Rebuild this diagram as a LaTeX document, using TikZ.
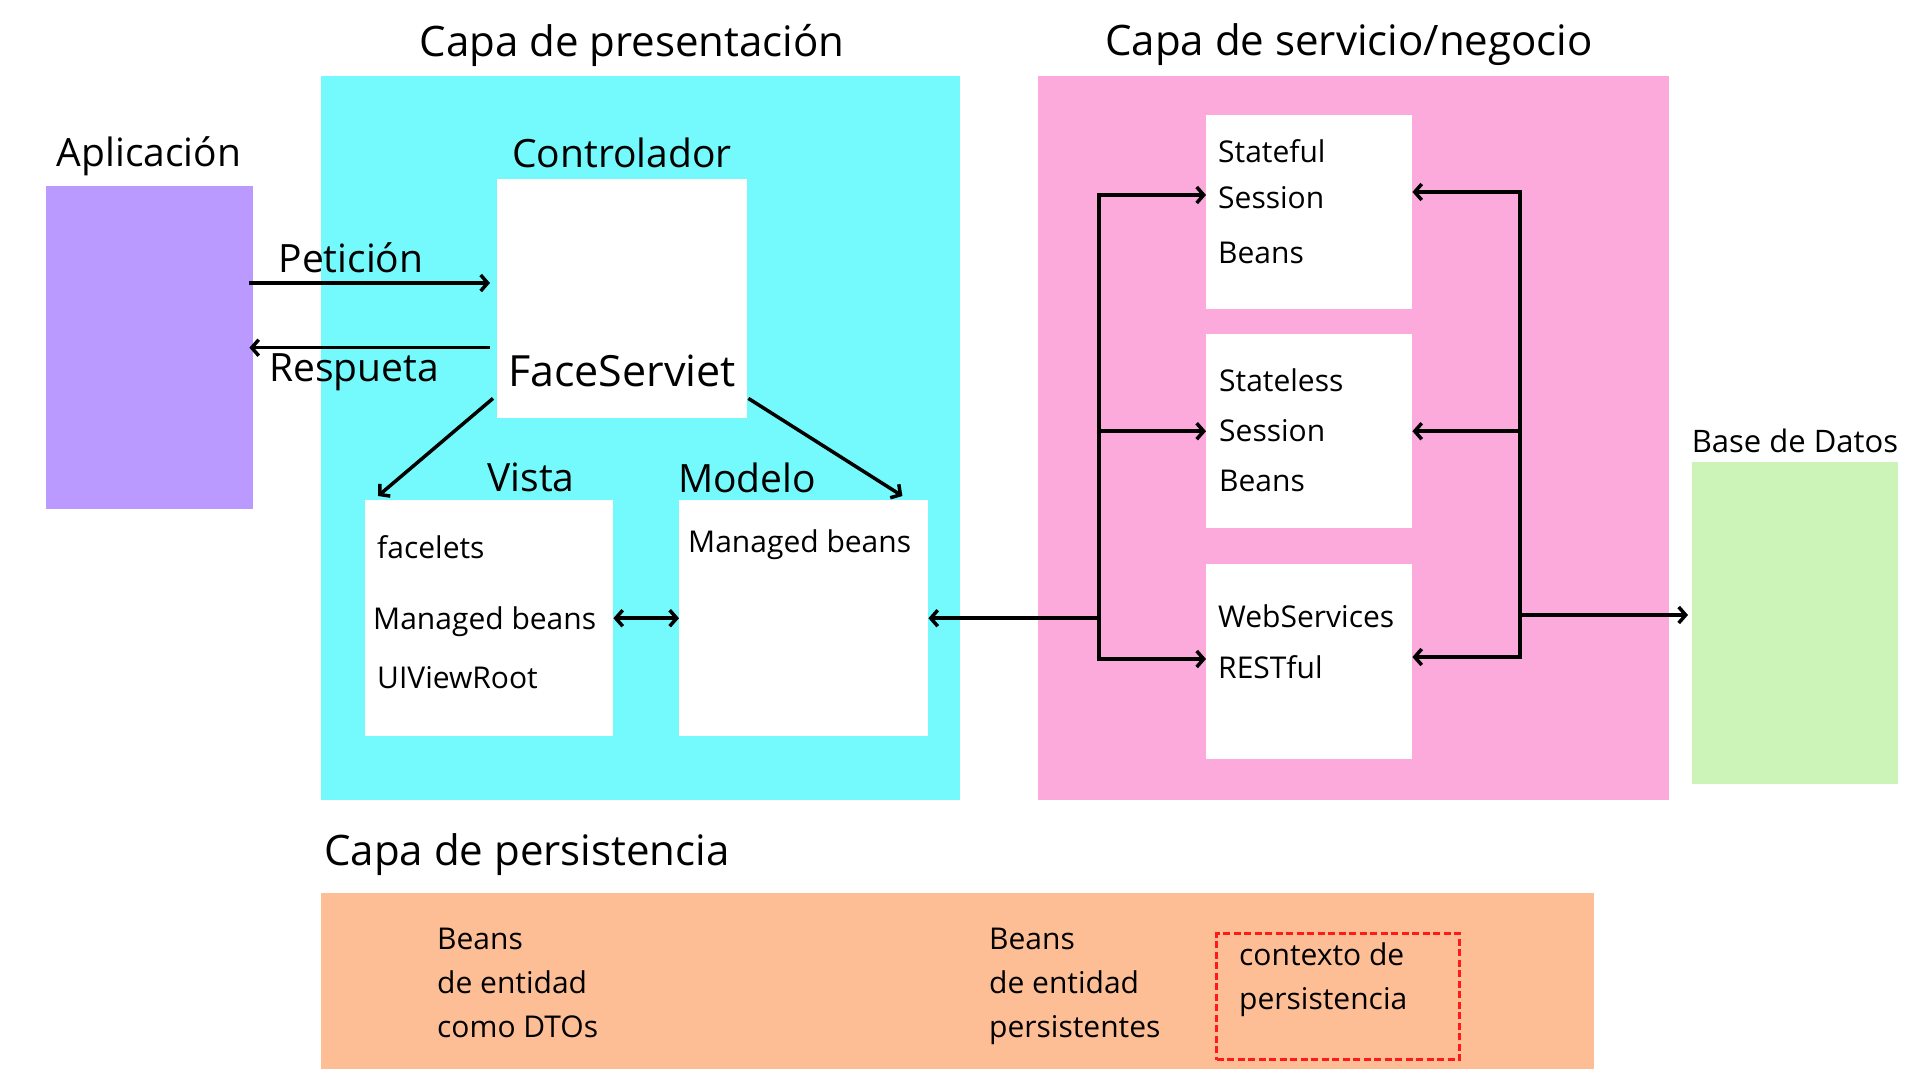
\documentclass[tikz,border=0pt]{standalone}
\usepackage{fontspec}
\setmainfont{Open Sans}
\usetikzlibrary{arrows.meta}

\definecolor{appPurple}{HTML}{BA9AFE}
\definecolor{presCyan}{HTML}{74FAFD}
\definecolor{servPink}{HTML}{FCA9DC}
\definecolor{dbGreen}{HTML}{CCF4B9}
\definecolor{persOrange}{HTML}{FDBE96}
\definecolor{ctxRed}{HTML}{FF1A1A}

\begin{document}
\begin{tikzpicture}[x=1pt, y=-1pt, % pixel units, y downwards
    >={Straight Barb[length=7pt,width=16pt]},
    layer/.style={fill=#1, draw=none, anchor=north west, inner sep=0pt},
    box/.style={fill=white, draw=none, anchor=north west, inner sep=0pt},
    title/.style={font=\fontsize{42}{50}\selectfont, inner sep=0pt},
    label/.style={font=\fontsize{39}{46}\selectfont, inner sep=0pt},
    txt/.style={font=\fontsize{30}{#1}\selectfont, align=left, anchor=base west, inner sep=0pt},
    arr/.style={line width=3.5pt, ->}]

    % Page
    \fill[white] (0,0) rectangle (1920,1080);
    \useasboundingbox (0,0) rectangle (1920,1080);

    % Layers
    \node[layer=appPurple, minimum width=207, minimum height=323] (app) at (46,186) {};
    \node[layer=presCyan, minimum width=639, minimum height=724] (pres) at (321,76) {};
    \node[layer=servPink, minimum width=631, minimum height=724] (serv) at (1038,76) {};
    \node[layer=dbGreen, minimum width=206, minimum height=322] (db) at (1692,462) {};
    \node[layer=persOrange, minimum width=1273, minimum height=176] (pers) at (321,893) {};

    % Titles
    \node[title] (presTitle) at (632,45) {Capa de presentación};
    \node[title] (servTitle) at (1349,45) {Capa de servicio/negocio};
    \node[title, anchor=west] (persTitle) at (324,855) {Capa de persistencia};
    \node[label] (appTitle) at (149,156) {Aplicación};
    \node[label] (ctrlTitle) at (622,153) {Controlador};
    \node[label] (vistaTitle) at (531,477) {Vista};
    \node[label] (modeloTitle) at (747,478) {Modelo};
    \node[font=\fontsize{31}{37}\selectfont, inner sep=0pt] (dbTitle) at (1795,441) {Base de Datos};

    % Presentation boxes
    \node[box, minimum width=250, minimum height=239] (fs) at (497,179) {};
    \node[font=\fontsize{43}{50}\selectfont, inner sep=0pt] (fsTxt) at (622,371) {FaceServiet};
    \node[box, minimum width=248, minimum height=236] (vista) at (365,500) {};
    \node[box, minimum width=249, minimum height=236] (modelo) at (679,500) {};
    \node[txt=59] (vistaTxt) at (377,688) {facelets\\[12pt]\hspace*{-4pt}Managed beans\\UIViewRoot};
    \node[txt=46] (modeloTxt) at (688,552) {Managed beans};

    % Service boxes
    \node[box, minimum width=206, minimum height=194] (sf) at (1206,115) {};
    \node[box, minimum width=206, minimum height=194] (sl) at (1206,334) {};
    \node[box, minimum width=206, minimum height=195] (ws) at (1206,564) {};
    \node[txt=46] (sfTxt) at (1218,263) {Stateful\\Session\\[9pt]Beans};
    \node[txt=50] (slTxt) at (1219,491) {Stateless\\Session\\Beans};
    \node[txt=51] (wsTxt) at (1218,678) {WebServices\\RESTful};

    % Persistence
    \node[txt=44] (dtoTxt) at (437,1037) {Beans\\de entidad\\como DTOs};
    \node[txt=44] (entTxt) at (989,1037) {Beans\\de entidad\\persistentes};
    \node[draw=ctxRed, line width=3pt, dash pattern=on 7pt off 3.5pt, anchor=north west,
          minimum width=243, minimum height=126, inner sep=0pt] (ctx) at (1215,932) {};
    \node[txt=44] (ctxTxt) at (1239,1009) {contexto de\\persistencia};

    % Request / response
    \coordinate (pet) at (0,283);
    \draw[arr] ([xshift=-4pt]app.east |- pet) -- ([xshift=-7pt]fs.west |- pet);
    \draw[arr] ([xshift=-7pt]fs.west |- app.east) -- ([xshift=-4pt]app.east);
    \node[label] (petTxt) at (351,258) {Petición};
    \node[label] (respTxt) at (354,372) {Respueta};

    % Controller to view and model
    \draw[arr] ([shift={(-4,-20)}]fs.south west) -- ([shift={(13,-4)}]vista.north west);
    \draw[arr] ([shift={(1,-20)}]fs.south east) -- ([shift={(-26,-4)}]modelo.north east);
    \draw[arr, <->] (vista.east) -- (modelo.west);

    % Left bus
    \coordinate (bl1) at (1099,195);
    \coordinate (bl3) at (1099,659);
    \draw[arr] (bl1 |- sl.west) -- (bl1) -- (sf.west |- bl1);
    \draw[arr] (bl1 |- sl.west) -- (bl3) -- (ws.west |- bl3);
    \draw[arr] (bl1 |- sl.west) -- (sl.west);
    \draw[arr] (bl1 |- modelo.east) -- (modelo.east);

    % Right bus
    \coordinate (br1) at (1520,192);
    \coordinate (br3) at (1520,657);
    \coordinate (bd) at (1520,615);
    \draw[arr] (br1 |- sl.east) -- (br1) -- (sf.east |- br1);
    \draw[arr] (br1 |- sl.east) -- (br3) -- (ws.east |- br3);
    \draw[arr] (br1 |- sl.east) -- (sl.east);
    \draw[arr, shorten >=4pt] (bd) -- (db.west |- bd);
\end{tikzpicture}
\end{document}
